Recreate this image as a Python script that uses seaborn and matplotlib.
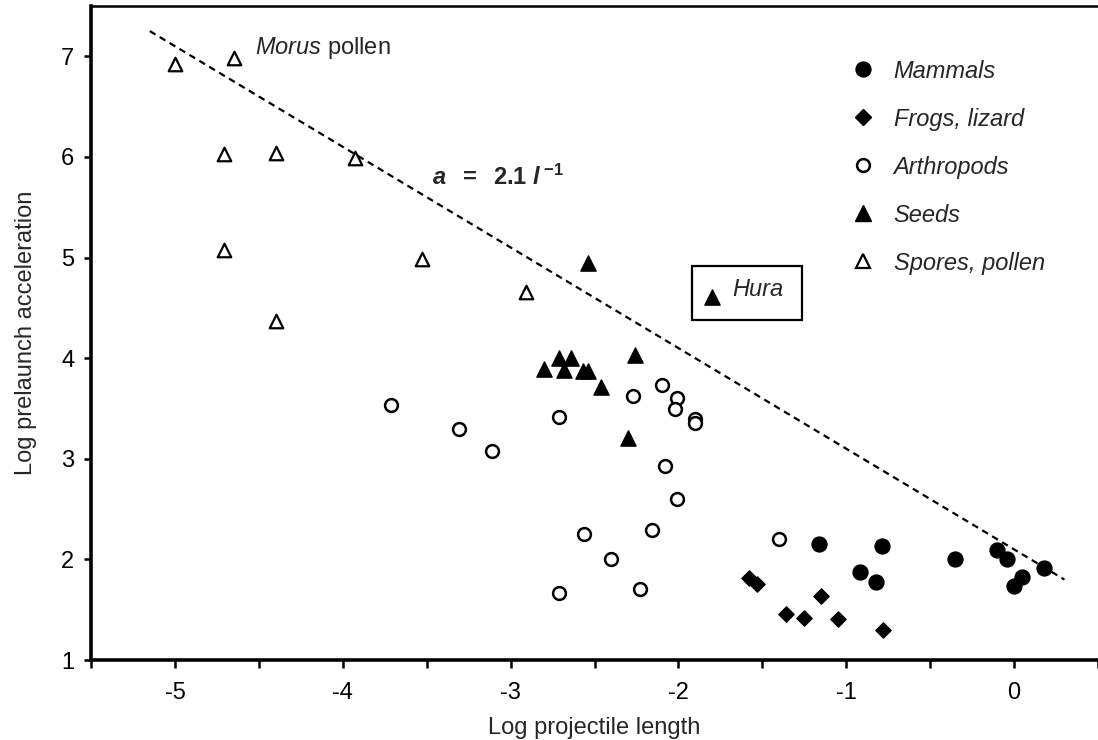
import pandas as pd
import matplotlib
matplotlib.use('Agg')
import matplotlib.pyplot as plt
from matplotlib.lines import Line2D
from matplotlib.patches import Rectangle
import seaborn as sns

# log projectile length / log prelaunch acceleration
mammals_x = [-1.16, -0.79, -0.92, -0.82, -0.35, -0.10, -0.04, 0.05, 0.00, 0.18]
mammals_y = [2.15, 2.13, 1.88, 1.78, 2.00, 2.09, 2.00, 1.83, 1.74, 1.91]

frogs_x = [-1.58, -1.53, -1.15, -1.36, -1.25, -1.05, -0.78]
frogs_y = [1.82, 1.76, 1.64, 1.46, 1.42, 1.41, 1.30]

arthropods_x = [-3.71, -3.31, -3.11, -2.71, -2.27, -2.10, -2.01, -2.02, -1.90,
                -1.90, -2.08, -2.01, -2.16, -2.56, -2.40, -2.71, -2.23, -1.40]
arthropods_y = [3.53, 3.30, 3.08, 3.42, 3.62, 3.73, 3.60, 3.49, 3.40,
                3.36, 2.93, 2.60, 2.29, 2.25, 2.00, 1.67, 1.71, 2.20]

seeds_x = [-2.54, -1.80, -2.80, -2.71, -2.64, -2.68, -2.57, -2.54, -2.46, -2.26, -2.30]
seeds_y = [4.95, 4.61, 3.89, 4.00, 4.00, 3.88, 3.87, 3.87, 3.71, 4.03, 3.21]

spores_x = [-5.00, -4.65, -4.71, -4.40, -3.93, -4.71, -4.40, -3.53, -2.91]
spores_y = [6.92, 6.98, 6.03, 6.04, 5.99, 5.07, 4.37, 4.99, 4.66]

# fitted line: log a = 2.1 - log l
line_x = [-5.15, 0.30]
line_y = [2.1 - v for v in line_x]

sns.set_style("ticks")
plt.rcParams['font.family'] = ['Liberation Sans', 'DejaVu Sans']
plt.rcParams['axes.unicode_minus'] = False
plt.rcParams['mathtext.fontset'] = 'custom'
plt.rcParams['mathtext.rm'] = 'Liberation Sans'
plt.rcParams['mathtext.it'] = 'Liberation Sans:italic'
plt.rcParams['mathtext.bf'] = 'Liberation Sans:bold'
plt.rcParams['mathtext.bfit'] = 'Liberation Sans:bold:italic'

FS = 17

fig = plt.figure(figsize=(10.98, 7.40), dpi=100)
ax = fig.add_axes([0.0829, 0.108, 0.9171, 0.884])

groups = [
    ('Mammals', mammals_x, mammals_y, 'o', 'black', 115, 1.0),
    ('Frogs, lizard', frogs_x, frogs_y, 'D', 'black', 60, 1.0),
    ('Arthropods', arthropods_x, arthropods_y, 'o', 'white', 85, 1.8),
    ('Seeds', seeds_x, seeds_y, '^', 'black', 120, 1.0),
    ('Spores, pollen', spores_x, spores_y, '^', 'white', 95, 1.6),
]

handles = []
for name, xs, ys, mk, fc, size, lw in groups:
    df = pd.DataFrame({'x': xs, 'y': ys})
    sns.scatterplot(data=df, x='x', y='y', marker=mk, s=size, color=fc,
                    edgecolor='black', linewidth=lw, ax=ax, zorder=3)
    handles.append(Line2D([], [], linestyle='none', marker=mk, markersize=size ** 0.5,
                          markerfacecolor=fc, markeredgecolor='black',
                          markeredgewidth=lw, label=name))

sns.lineplot(x=line_x, y=line_y, color='black', linestyle=(0, (3, 2.2)),
             linewidth=1.6, ax=ax, zorder=2)

leg = ax.legend(handles=handles, loc='upper left', bbox_to_anchor=(0.743, 0.936),
                frameon=False, borderpad=0, handlelength=1.0, handletextpad=0.8,
                labelspacing=1.06, fontsize=FS)
for t in leg.get_texts():
    t.set_fontstyle('italic')

ax.text(-4.52, 7.08, r'$\mathit{Morus}$ pollen', fontsize=FS, va='center', ha='left')
ax.text(-3.47, 5.80, r'$\mathbfit{a}\ \ \mathbf{=}\ \ \mathbf{2.1}\ \mathbfit{l}^{\ \mathbf{-1}}$',
        fontsize=FS, va='center', ha='left')

ax.add_patch(Rectangle((-1.917, 4.38), 0.655, 0.54, fill=False, edgecolor='black',
                       linewidth=1.6, zorder=4))
ax.text(-1.68, 4.68, 'Hura', fontsize=FS, fontstyle='italic', va='center', ha='left')

ax.set_xlim(-5.5, 0.47)
ax.set_ylim(1, 7.5)
ax.set_xticks([-5, -4, -3, -2, -1, 0])
ax.set_xticks([-5.5, -4.5, -3.5, -2.5, -1.5, -0.5, 0.5], minor=True)
ax.set_yticks([1, 2, 3, 4, 5, 6, 7])
ax.tick_params(axis='both', which='both', direction='out', width=1.8, colors='black',
               labelsize=FS)
ax.tick_params(axis='x', which='both', length=6, pad=10)
ax.tick_params(axis='y', length=5, pad=7)

ax.set_xlabel('Log projectile length', fontsize=FS, labelpad=9)
ax.set_ylabel('Log prelaunch acceleration', fontsize=FS, labelpad=17)

ax.spines['right'].set_visible(False)
ax.spines['left'].set_linewidth(2.6)
ax.spines['bottom'].set_linewidth(2.6)
ax.spines['top'].set_linewidth(1.8)
for sp in ax.spines.values():
    sp.set_color('black')

fig.savefig('out.png', dpi=100)
